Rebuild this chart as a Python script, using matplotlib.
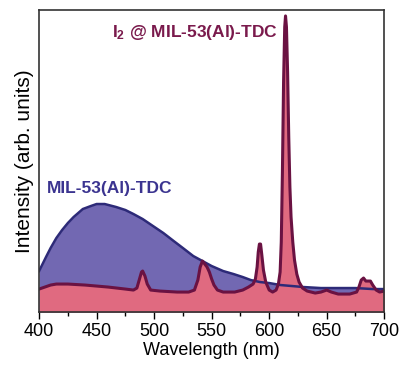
import numpy as np
import matplotlib.pyplot as plt

# spectre de MIL-53(Al)-TDC seul (bande large)
wl_mof = [400, 403, 406, 410, 415, 420, 425, 430, 438, 445, 450, 457, 467, 475, 482,
          490, 499, 508, 517, 525, 534, 542, 550, 560, 569, 577, 584, 592, 600,
          610, 620, 630, 645, 660, 675, 690, 700]
int_mof = [41, 48, 55, 64, 74, 82, 89, 95, 103, 106, 108, 108, 105, 102, 98,
           93, 86, 79, 71, 64, 56, 51, 46, 41, 38, 35, 32, 30, 29,
           27, 26, 25, 24, 24, 24, 23, 23]

# spectre de I2 @ MIL-53(Al)-TDC (raies fines)
wl_i2 = [400, 405, 410, 415, 425, 440, 460, 475, 482, 485, 487, 489, 490, 492, 494, 497,
         505, 520, 530, 535, 538, 540, 542, 544, 546, 548, 550, 552, 555, 560, 570,
         577, 582, 586, 588, 589.5, 590.5, 591.5, 592.5, 593.5, 595, 597, 600, 603,
         606, 608, 609.5, 610.5, 611.5, 612.5, 613.5, 614.2, 615, 616, 617, 618, 619,
         620.5, 622, 624, 626, 629, 633, 640, 645, 650, 654, 660, 670, 676, 678, 680,
         682, 684, 686, 688, 690, 693, 696, 700]
int_i2 = [23, 25, 27, 28, 28, 27, 25, 23, 22, 24, 32, 40, 41, 36, 28, 22,
          21, 20, 20, 22, 32, 45, 51, 48, 45, 40, 33, 27, 22, 20, 20,
          22, 25, 28, 33, 45, 60, 68, 68, 58, 42, 30, 22, 20,
          22, 28, 40, 70, 140, 230, 285, 296, 285, 240, 175, 125, 95,
          70, 52, 38, 30, 24, 21, 19, 20, 22, 20, 18, 18, 20, 25, 32,
          34, 31, 31, 31, 27, 22, 20, 21]

plt.rcParams['font.family'] = ['Liberation Sans', 'DejaVu Sans']
plt.rcParams['mathtext.fontset'] = 'custom'
plt.rcParams['mathtext.rm'] = 'Liberation Sans'
plt.rcParams['mathtext.bf'] = 'Liberation Sans:bold'

fig = plt.figure(figsize=(3.99, 3.68), dpi=100)
ax = fig.add_axes([0.098, 0.152, 0.865, 0.821])

# bande large en bleu, puis raies de l'iode par-dessus
ax.fill_between(wl_mof, int_mof, 0, color='#7268b2', lw=0)
ax.plot(wl_mof, int_mof, color='#2d2a78', lw=1.8)
ax.fill_between(wl_i2, int_i2, 0, color='#e06a80', lw=0)
ax.plot(wl_i2, int_i2, color='#6a1242', lw=2.2)

ax.set_xlim(400, 700)
ax.set_ylim(0, 302)
ax.set_xticks(np.arange(400, 701, 50))
ax.set_xticks(np.arange(425, 700, 50), minor=True)
ax.set_yticks([])
ax.tick_params(axis='x', which='major', direction='out', length=5, width=1, labelsize=13, pad=3)
ax.tick_params(axis='x', which='minor', direction='out', length=3, width=1)
for s in ax.spines.values():
    s.set_color('#333333')
    s.set_linewidth(1.2)

ax.set_xlabel('Wavelength (nm)', fontsize=13, labelpad=1)
ax.set_ylabel('Intensity (arb. units)', fontsize=15, labelpad=4)

ax.text(535, 279, r'$\mathbf{I_2}$ @ MIL-53(Al)-TDC', color='#7a1a4c', fontsize=12.5,
        fontweight='bold', ha='center', va='center')
ax.text(407, 124, 'MIL-53(Al)-TDC', color='#3b3490', fontsize=12.5,
        fontweight='bold', ha='left', va='center')

fig.savefig('out.png', dpi=100)
